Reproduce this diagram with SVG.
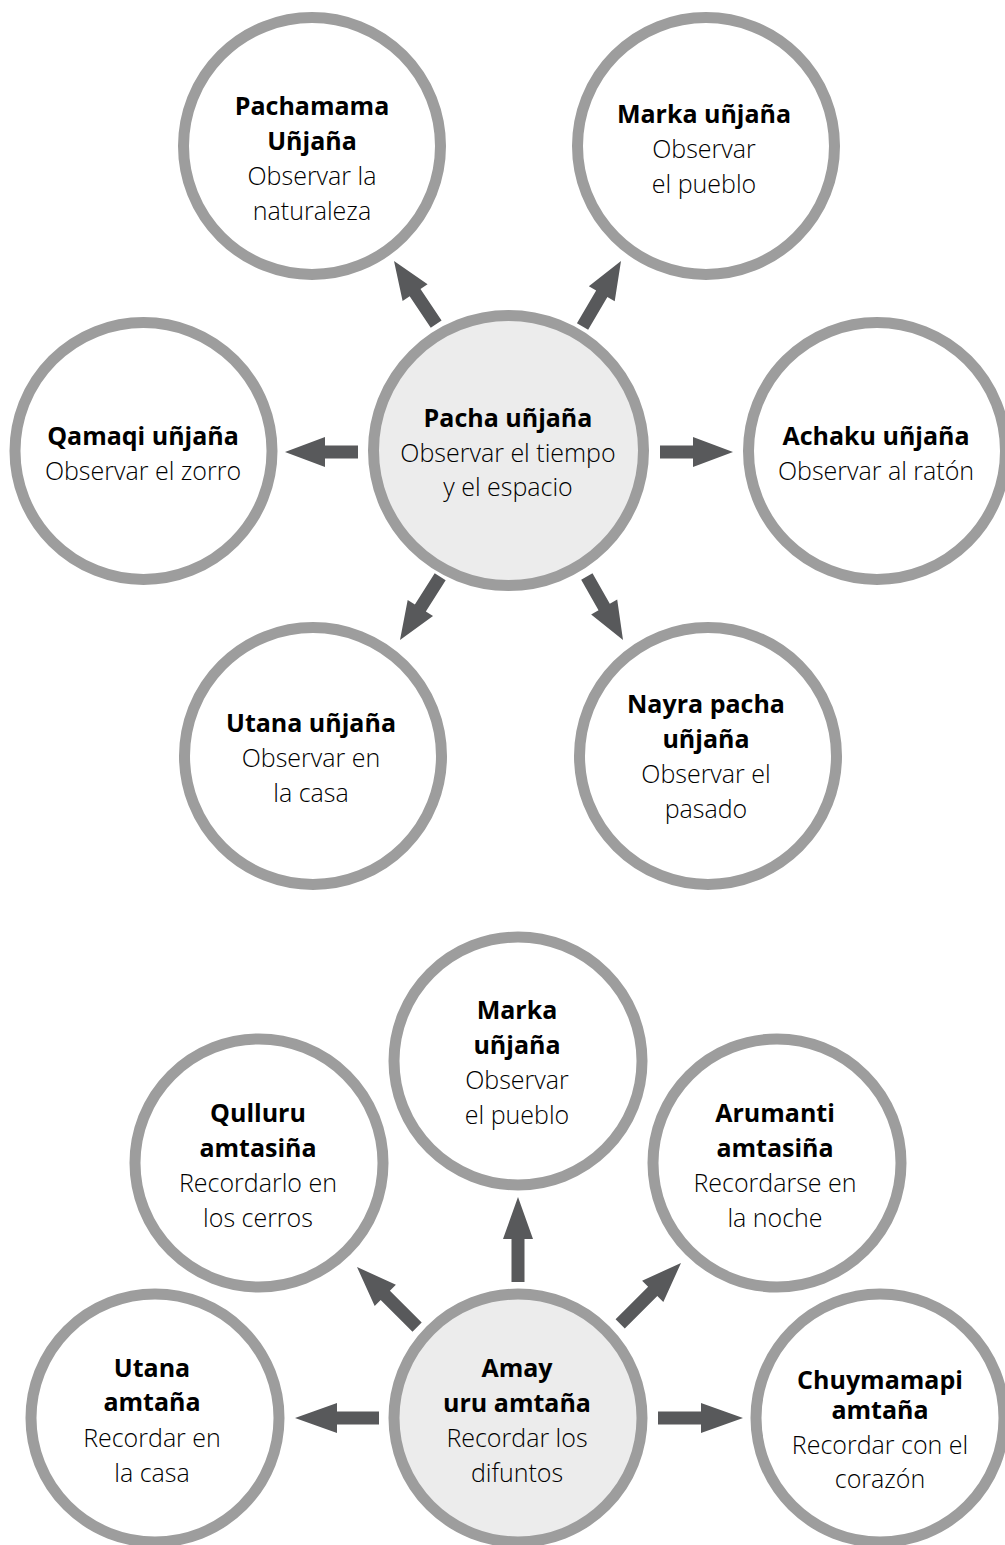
<svg xmlns="http://www.w3.org/2000/svg" width="1005" height="1545" viewBox="0 0 1005 1545">
<style>
.c{fill:#ffffff;stroke:#9d9d9d;stroke-width:11}
.cc{fill:#ececec;stroke:#9d9d9d;stroke-width:11}
text{font-family:"Open Sans","Liberation Sans",sans-serif;font-size:25px;text-anchor:middle;fill:#000}
.b{font-weight:700}
.l{font-weight:300;fill:#000}
.a{fill:#58595b}
</style>
<rect width="1005" height="1545" fill="#fff"/>
<g id="connectors">
<polygon class="a" transform="translate(394,261) rotate(-123.7)" points="0,0 -38,-15 -38,-6.5 -76,-6.5 -76,6.5 -38,6.5 -38,15"/>
<polygon class="a" transform="translate(621,261) rotate(-59.6)" points="0,0 -38,-15 -38,-6.5 -76,-6.5 -76,6.5 -38,6.5 -38,15"/>
<polygon class="a" transform="translate(285,452) rotate(180)" points="0,0 -40,-15 -40,-6.5 -73,-6.5 -73,6.5 -40,6.5 -40,15"/>
<polygon class="a" transform="translate(733,452)" points="0,0 -40,-15 -40,-6.5 -73,-6.5 -73,6.5 -40,6.5 -40,15"/>
<polygon class="a" transform="translate(400,640) rotate(122.4)" points="0,0 -38,-15 -38,-6.5 -75,-6.5 -75,6.5 -38,6.5 -38,15"/>
<polygon class="a" transform="translate(623,640) rotate(60.3)" points="0,0 -38,-15 -38,-6.5 -73,-6.5 -73,6.5 -38,6.5 -38,15"/>
<polygon class="a" transform="translate(518,1197) rotate(-90)" points="0,0 -42,-15 -42,-6.5 -85,-6.5 -85,6.5 -42,6.5 -42,15"/>
<polygon class="a" transform="translate(357,1267) rotate(-135)" points="0,0 -40,-15 -40,-6.5 -85,-6.5 -85,6.5 -40,6.5 -40,15"/>
<polygon class="a" transform="translate(681,1263) rotate(-45)" points="0,0 -40,-15 -40,-6.5 -86,-6.5 -86,6.5 -40,6.5 -40,15"/>
<polygon class="a" transform="translate(295,1418) rotate(180)" points="0,0 -42,-15 -42,-6.5 -84,-6.5 -84,6.5 -42,6.5 -42,15"/>
<polygon class="a" transform="translate(743,1418)" points="0,0 -42,-15 -42,-6.5 -85,-6.5 -85,6.5 -42,6.5 -42,15"/>
</g>
<g id="pachamama">
<circle class="c" cx="312" cy="146" r="128.5"/>
<text class="b" x="312" y="115">Pachamama</text>
<text class="b" x="312" y="150">Uñjaña</text>
<text class="l" x="312" y="185">Observar la</text>
<text class="l" x="312" y="220">naturaleza</text>
</g>
<g id="marka1">
<circle class="c" cx="706" cy="146" r="128.5"/>
<text class="b" x="704" y="123">Marka uñjaña</text>
<text class="l" x="704" y="158">Observar</text>
<text class="l" x="704" y="193">el pueblo</text>
</g>
<g id="qamaqi">
<circle class="c" cx="143.5" cy="451" r="128.5"/>
<text class="b" x="143" y="445">Qamaqi uñjaña</text>
<text class="l" x="143" y="480">Observar el zorro</text>
</g>
<g id="pacha">
<circle class="cc" cx="508.5" cy="450.5" r="135"/>
<text class="b" x="508" y="427">Pacha uñjaña</text>
<text class="l" x="508" y="462">Observar el tiempo</text>
<text class="l" x="508" y="496">y el espacio</text>
</g>
<g id="achaku">
<circle class="c" cx="877" cy="451" r="128.5"/>
<text class="b" x="876" y="445">Achaku uñjaña</text>
<text class="l" x="876" y="480">Observar al ratón</text>
</g>
<g id="utana1">
<circle class="c" cx="313" cy="756" r="128.5"/>
<text class="b" x="311" y="732">Utana uñjaña</text>
<text class="l" x="311" y="767">Observar en</text>
<text class="l" x="311" y="802">la casa</text>
</g>
<g id="nayra">
<circle class="c" cx="708" cy="756" r="128.5"/>
<text class="b" x="706" y="713">Nayra pacha</text>
<text class="b" x="706" y="748">uñjaña</text>
<text class="l" x="706" y="783">Observar el</text>
<text class="l" x="706" y="818">pasado</text>
</g>
<g id="marka2">
<circle class="c" cx="518" cy="1061" r="124"/>
<text class="b" x="517" y="1019">Marka</text>
<text class="b" x="517" y="1054">uñjaña</text>
<text class="l" x="517" y="1089">Observar</text>
<text class="l" x="517" y="1124">el pueblo</text>
</g>
<g id="qulluru">
<circle class="c" cx="259" cy="1163" r="124"/>
<text class="b" x="258" y="1122">Qulluru</text>
<text class="b" x="258" y="1157">amtasiña</text>
<text class="l" x="258" y="1192">Recordarlo en</text>
<text class="l" x="258" y="1227">los cerros</text>
</g>
<g id="arumanti">
<circle class="c" cx="777" cy="1163" r="124"/>
<text class="b" x="775" y="1122">Arumanti</text>
<text class="b" x="775" y="1157">amtasiña</text>
<text class="l" x="775" y="1192">Recordarse en</text>
<text class="l" x="775" y="1227">la noche</text>
</g>
<g id="amay">
<circle class="cc" cx="518" cy="1418" r="124"/>
<text class="b" x="517" y="1377">Amay</text>
<text class="b" x="517" y="1412">uru amtaña</text>
<text class="l" x="517" y="1447">Recordar los</text>
<text class="l" x="517" y="1482">difuntos</text>
</g>
<g id="utana2">
<circle class="c" cx="155" cy="1418" r="124"/>
<text class="b" x="152" y="1377">Utana</text>
<text class="b" x="152" y="1411">amtaña</text>
<text class="l" x="152" y="1447">Recordar en</text>
<text class="l" x="152" y="1482">la casa</text>
</g>
<g id="chuymamapi">
<circle class="c" cx="880" cy="1418" r="124"/>
<text class="b" x="880" y="1389">Chuymamapi</text>
<text class="b" x="880" y="1419">amtaña</text>
<text class="l" x="880" y="1454">Recordar con el</text>
<text class="l" x="880" y="1488">corazón</text>
</g>
</svg>
